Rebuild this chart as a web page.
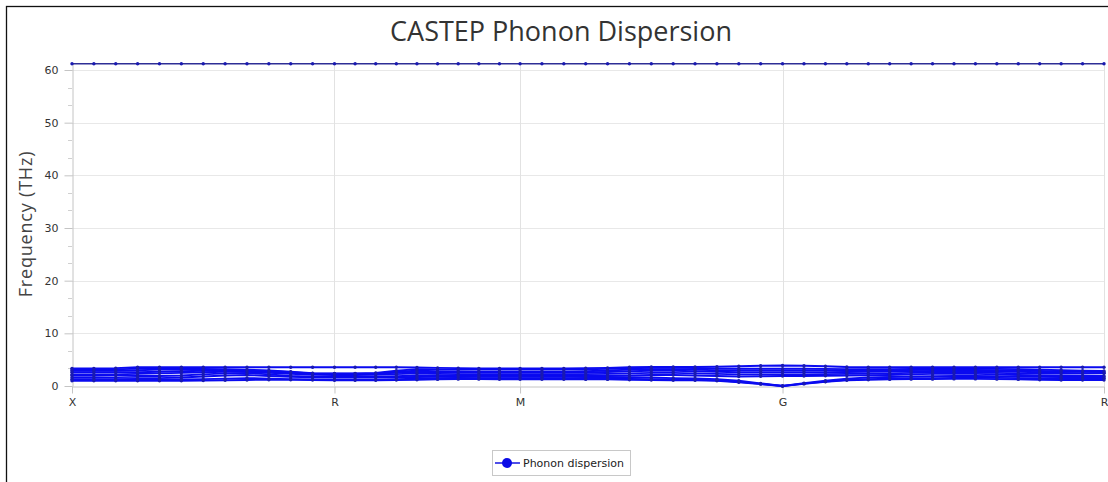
<!DOCTYPE html>
<html>
<head>
<meta charset="utf-8">
<script src="https://cdn.jsdelivr.net/npm/d3@7"></script>
<style>
  body { margin: 0; background: #fff; }
  svg { display: block; }
</style>
</head>
<body>
<div id="container"></div>
<script>
const w = 1108,
  h = 482,
  plotLeft = 72,
  plotRight = 1104,
  plotTop = 63,
  plotBottom = 386;

// high-symmetry points of the k-path and segment lengths (1/a units)
const kLabels = ['X', 'R', 'M', 'G', 'R'];
const segLengths = [0.7071, 0.5, 0.7071, 0.866];
const segSteps = [12, 9, 12, 15];

// phonon branches (THz), one value per k-point (49 points)
const band1 = [1.0, 1.0, 1.0, 1.0, 1.0, 1.0, 1.05, 1.1, 1.15, 1.2, 1.2, 1.15, 1.1,
  1.1, 1.1, 1.15, 1.2, 1.25, 1.3, 1.3, 1.27, 1.27,
  1.27, 1.27, 1.25, 1.25, 1.2, 1.15, 1.1, 1.1, 1.0, 0.7, 0.35, 0.0,
  0.4, 0.8, 1.1, 1.2, 1.25, 1.3, 1.3, 1.35, 1.35, 1.3, 1.25, 1.2, 1.15, 1.15, 1.15];
const band2 = [1.3, 1.3, 1.25, 1.2, 1.2, 1.25, 1.3, 1.4, 1.5, 1.4, 1.3, 1.25, 1.2,
  1.2, 1.2, 1.3, 1.4, 1.5, 1.55, 1.5, 1.5, 1.5,
  1.5, 1.5, 1.45, 1.4, 1.35, 1.3, 1.25, 1.2, 1.1, 0.8, 0.4, 0.0,
  0.45, 0.85, 1.2, 1.3, 1.4, 1.5, 1.5, 1.55, 1.6, 1.55, 1.5, 1.45, 1.45, 1.45, 1.45];
const band3 = [1.6, 1.6, 1.55, 1.5, 1.5, 1.6, 1.8, 2.0, 2.1, 1.9, 1.75, 1.65, 1.6,
  1.6, 1.6, 1.65, 1.7, 1.75, 1.75, 1.75, 1.75, 1.75,
  1.75, 1.75, 1.7, 1.7, 1.65, 1.6, 1.5, 1.45, 1.3, 1.0, 0.5, 0.0,
  0.55, 1.0, 1.4, 1.6, 1.7, 1.8, 1.85, 1.9, 1.9, 1.85, 1.8, 1.75, 1.7, 1.7, 1.7];
const band4 = [2.0, 2.0, 2.0, 1.9, 1.9, 2.0, 2.2, 2.4, 2.5, 2.2, 1.9, 1.75, 1.7,
  1.7, 1.75, 1.85, 2.0, 2.0, 1.95, 1.9, 1.9, 1.9,
  1.9, 1.9, 1.9, 1.95, 2.0, 2.1, 2.1, 2.0, 1.9, 1.8, 1.85, 1.9,
  1.9, 1.95, 2.0, 2.05, 2.1, 2.2, 2.3, 2.35, 2.3, 2.2, 2.1, 2.0, 1.95, 1.9, 1.9];
const band5 = [2.2, 2.2, 2.2, 2.3, 2.4, 2.5, 2.6, 2.7, 2.7, 2.5, 2.3, 2.15, 2.1,
  2.1, 2.15, 2.25, 2.4, 2.3, 2.25, 2.2, 2.2, 2.2,
  2.2, 2.2, 2.25, 2.3, 2.4, 2.5, 2.5, 2.4, 2.3, 2.2, 2.2, 2.2,
  2.2, 2.25, 2.3, 2.35, 2.4, 2.5, 2.6, 2.6, 2.55, 2.5, 2.4, 2.35, 2.35, 2.35, 2.4];
const band6 = [2.6, 2.6, 2.6, 2.6, 2.7, 2.8, 2.9, 2.9, 2.85, 2.7, 2.5, 2.35, 2.3,
  2.3, 2.35, 2.5, 2.7, 2.6, 2.55, 2.5, 2.5, 2.5,
  2.5, 2.5, 2.55, 2.65, 2.8, 2.9, 2.9, 2.8, 2.7, 2.6, 2.6, 2.6,
  2.6, 2.6, 2.65, 2.7, 2.75, 2.8, 2.85, 2.9, 2.85, 2.8, 2.7, 2.6, 2.5, 2.45, 2.45];
const band7 = [2.9, 2.9, 2.9, 3.0, 3.1, 3.1, 3.1, 3.0, 2.95, 2.85, 2.6, 2.4, 2.35,
  2.35, 2.4, 2.7, 2.9, 2.8, 2.75, 2.7, 2.7, 2.7,
  2.7, 2.7, 2.8, 2.95, 3.1, 3.2, 3.2, 3.1, 3.0, 3.0, 3.0, 3.0,
  3.0, 3.0, 2.95, 2.95, 3.0, 3.05, 3.1, 3.1, 3.05, 3.0, 2.95, 2.85, 2.75, 2.7, 2.65];
const band8 = [3.1, 3.1, 3.15, 3.3, 3.35, 3.3, 3.25, 3.2, 3.1, 2.95, 2.7, 2.45, 2.4,
  2.4, 2.5, 2.9, 3.2, 3.15, 3.1, 3.1, 3.1, 3.1,
  3.1, 3.1, 3.15, 3.25, 3.35, 3.45, 3.45, 3.4, 3.3, 3.3, 3.3, 3.3,
  3.3, 3.25, 3.2, 3.2, 3.2, 3.25, 3.3, 3.3, 3.3, 3.25, 3.2, 3.1, 3.0, 2.9, 2.85];
const band9 = [3.35, 3.35, 3.4, 3.55, 3.55, 3.55, 3.55, 3.55, 3.55, 3.55, 3.55, 3.55, 3.55,
  3.55, 3.55, 3.55, 3.5, 3.45, 3.4, 3.35, 3.35, 3.35,
  3.35, 3.35, 3.4, 3.45, 3.55, 3.6, 3.6, 3.6, 3.65, 3.75, 3.85, 3.9,
  3.85, 3.75, 3.6, 3.55, 3.55, 3.55, 3.55, 3.55, 3.55, 3.55, 3.55, 3.55, 3.55, 3.55, 3.55];
const band10 = [61.2, 61.2, 61.2, 61.2, 61.2, 61.2, 61.2, 61.2, 61.2, 61.2, 61.2, 61.2, 61.2,
  61.2, 61.2, 61.2, 61.2, 61.2, 61.2, 61.2, 61.2, 61.2,
  61.2, 61.2, 61.2, 61.2, 61.2, 61.2, 61.2, 61.2, 61.2, 61.2, 61.2, 61.2,
  61.2, 61.2, 61.2, 61.2, 61.2, 61.2, 61.2, 61.2, 61.2, 61.2, 61.2, 61.2, 61.2, 61.2, 61.2];

const bands = [band1, band2, band3, band4, band5, band6, band7, band8, band9, band10];
const yTicks = [0, 10, 20, 30, 40, 50, 60];

// cumulative path distance of every k-point and of the labels
const kDist = [0];
const labelDist = [0];
segLengths.forEach((len, s) => {
  const start = labelDist[s];
  for (let i = 1; i <= segSteps[s]; i++) kDist.push(start + (len * i) / segSteps[s]);
  labelDist.push(start + len);
});

const svg = d3
  .select('#container')
  .append('svg')
  .attr('width', w)
  .attr('height', h);

// outer frame
svg
  .append('rect')
  .attr('x', 6.5)
  .attr('y', 6.5)
  .attr('width', w + 20)
  .attr('height', h + 20)
  .attr('fill', 'none')
  .attr('stroke', '#111')
  .attr('stroke-width', 1.3);

svg
  .append('text')
  .text('CASTEP Phonon Dispersion')
  .attr('x', 561)
  .attr('y', 41)
  .attr('text-anchor', 'middle')
  .attr('font-family', 'Open Sans, sans-serif')
  .attr('font-size', 27)
  .attr('fill', '#333');

const xScale = d3
  .scaleLinear()
  .domain([0, labelDist[labelDist.length - 1]])
  .range([plotLeft, plotRight]);

const yScale = d3
  .scaleLinear()
  .domain([0, 61.33])
  .range([plotBottom, plotTop]);

// grid
svg
  .append('g')
  .selectAll('line')
  .data(yTicks.slice(1))
  .enter()
  .append('line')
  .attr('x1', plotLeft)
  .attr('x2', plotRight)
  .attr('y1', (d) => Math.round(yScale(d)) + 0.5)
  .attr('y2', (d) => Math.round(yScale(d)) + 0.5)
  .attr('stroke', '#e8e8e8');

svg
  .append('g')
  .selectAll('line')
  .data(labelDist.slice(1))
  .enter()
  .append('line')
  .attr('x1', (d) => Math.round(xScale(d)) + 0.5)
  .attr('x2', (d) => Math.round(xScale(d)) + 0.5)
  .attr('y1', plotTop)
  .attr('y2', plotBottom)
  .attr('stroke', '#e2e2e2');

// axes
const xAxis = d3
  .axisBottom(xScale)
  .tickValues(labelDist)
  .tickFormat((d, i) => kLabels[i])
  .tickSize(7)
  .tickSizeOuter(0)
  .tickPadding(5);

const yAxis = d3
  .axisLeft(yScale)
  .tickValues(yTicks)
  .tickSize(8)
  .tickSizeOuter(0)
  .tickPadding(6);

const gx = svg
  .append('g')
  .attr('transform', 'translate(0,' + (plotBottom + 0.5) + ')')
  .call(xAxis);

const gy = svg
  .append('g')
  .attr('transform', 'translate(' + (plotLeft + 0.5) + ',0)')
  .call(yAxis);

[gx, gy].forEach((g) => {
  g.selectAll('path, line').attr('stroke', '#c4c4c4');
  g.selectAll('text')
    .attr('font-family', 'DejaVu Sans, sans-serif')
    .attr('font-size', 11)
    .attr('fill', '#333');
});

// minor ticks on the y axis
const minor = [];
yTicks.slice(0, -1).forEach((t) => minor.push(t + 10 / 3, t + 20 / 3));
svg
  .append('g')
  .selectAll('line')
  .data(minor)
  .enter()
  .append('line')
  .attr('x1', plotLeft - 4)
  .attr('x2', plotLeft)
  .attr('y1', (d) => Math.round(yScale(d)) + 0.5)
  .attr('y2', (d) => Math.round(yScale(d)) + 0.5)
  .attr('stroke', '#d0d0d0');

svg
  .append('text')
  .text('Frequency (THz)')
  .attr('transform', 'translate(32,224) rotate(-90)')
  .attr('text-anchor', 'middle')
  .attr('font-family', 'Open Sans, sans-serif')
  .attr('font-size', 18)
  .attr('letter-spacing', 0.8)
  .attr('fill', '#444');

// branches
const line = d3
  .line()
  .x((d, i) => xScale(kDist[i]))
  .y((d) => yScale(d));

const series = svg
  .append('g')
  .selectAll('g')
  .data(bands)
  .enter()
  .append('g');

series
  .append('path')
  .attr('d', line)
  .attr('fill', 'none')
  .attr('stroke', (d, i) => (i === bands.length - 1 ? '#2e2e96' : '#0a0af0'))
  .attr('stroke-width', (d, i) => (i === bands.length - 1 ? 1.4 : 1.9));

series
  .selectAll('circle')
  .data((d) => d)
  .enter()
  .append('circle')
  .attr('cx', (d, i) => xScale(kDist[i]))
  .attr('cy', (d) => yScale(d))
  .attr('r', 1.7)
  .attr('fill', '#1a1ab0');

// legend
const legend = svg.append('g').attr('transform', 'translate(492,450)');
legend
  .append('rect')
  .attr('x', 0.5)
  .attr('y', 0.5)
  .attr('width', 138)
  .attr('height', 25)
  .attr('fill', '#fff')
  .attr('stroke', '#c8c8c8');
legend
  .append('line')
  .attr('x1', 3)
  .attr('x2', 28)
  .attr('y1', 13)
  .attr('y2', 13)
  .attr('stroke', '#1414e0')
  .attr('stroke-width', 1.5);
legend
  .append('circle')
  .attr('cx', 15)
  .attr('cy', 13)
  .attr('r', 5)
  .attr('fill', '#0a0ae6');
legend
  .append('text')
  .text('Phonon dispersion')
  .attr('x', 31)
  .attr('y', 17)
  .attr('font-family', 'DejaVu Sans, sans-serif')
  .attr('font-size', 11)
  .attr('fill', '#222');
</script>
</body>
</html>
